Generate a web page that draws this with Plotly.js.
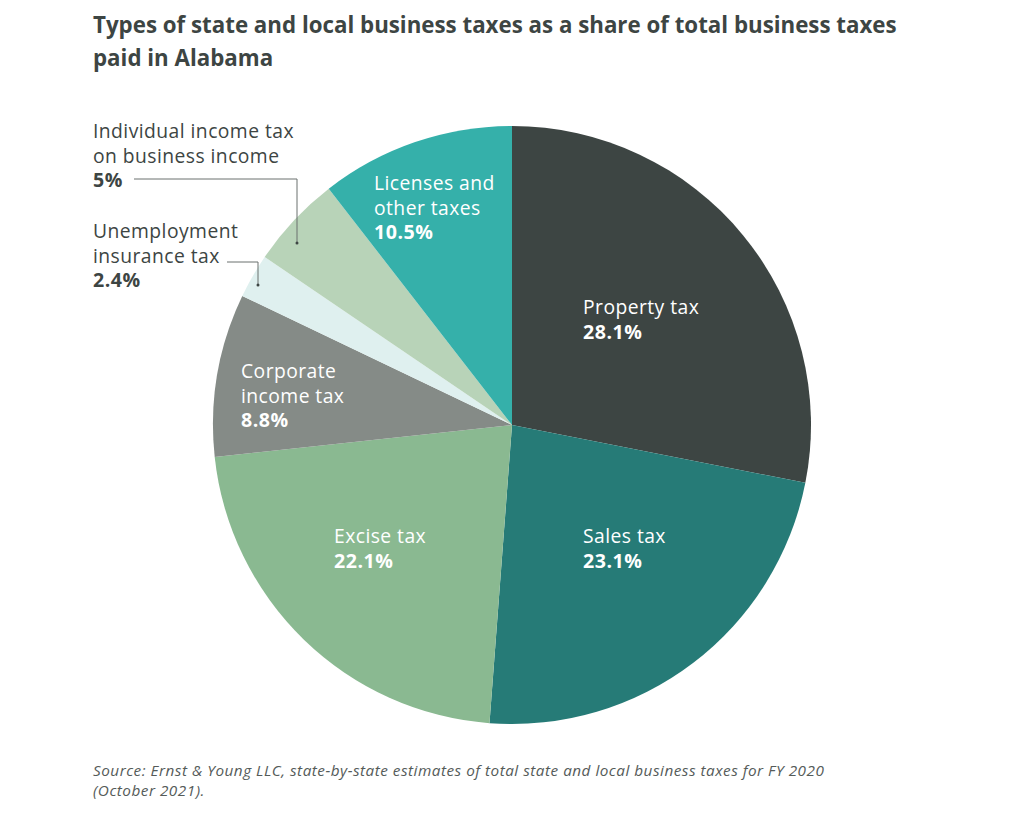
<!DOCTYPE html>
<html><head><meta charset="utf-8">
<script src="https://cdn.plot.ly/plotly-3.0.1.min.js"></script>
<style>body{margin:0;background:#fff}#chart{width:1024px;height:816px}</style>
</head><body><div id="chart"></div>
<script>
var labels = ["Property tax","Sales tax","Excise tax","Corporate income tax","Unemployment insurance tax","Individual income tax on business income","Licenses and other taxes"];
var values = [28.1, 23.1, 22.1, 8.8, 2.4, 5, 10.5];
var colors = ["#3d4543","#267b77","#8ab991","#858b87","#dff0ef","#b8d3b8","#35b0aa"];
var labelLines = [["Property tax"],["Sales tax"],["Excise tax"],["Corporate","income tax"],["Unemployment","insurance tax"],["Individual income tax","on business income"],["Licenses and","other taxes"]];
var valueText = ["28.1%","23.1%","22.1%","8.8%","2.4%","5%","10.5%"];
var titleLines = ["Types of state and local business taxes as a share of total business taxes","paid in Alabama"];
var sourceLines = ["Source: Ernst &amp; Young LLC, state-by-state estimates of total state and local business taxes for FY 2020","(October 2021)."];

// label anchor: left x, centre y of first line, inside slice?
var labelPos = [[583,307,true],[583,536,true],[334,536,true],[241,370,true],[93,230,false],[93,130,false],[374,182,true]];
var pitch = 24.6;

var W=1024,H=816;
function px(x){return x/W;} function py(y){return 1-y/H;}

var annotations = [];
function addText(x,yTop,nLines,pitchPx,txt,font){
  var yc = yTop + (nLines-1)*pitchPx/2;
  annotations.push({xref:'paper', yref:'paper', x:px(x), y:py(yc), xanchor:'left', yanchor:'middle',
    align:'left', showarrow:false, text:txt, font:font, borderpad:0});
}
var baseSize = pitch/1.3;
for (var i=0;i<labels.length;i++){
  var p = labelPos[i];
  var col = p[2] ? '#ffffff' : '#3d4543';
  var lines = labelLines[i].map(function(s){return '<span style="font-size:19.3px;letter-spacing:0.45px">'+s+'</span>';});
  lines.push('<span style="font-size:19.6px;letter-spacing:0.5px"><b>'+valueText[i]+'</b></span>');
  addText(p[0]-1, p[1], lines.length, pitch, lines.join('<br>'), {family:'Open Sans', size:baseSize, color:col});
}
for (var k=0;k<titleLines.length;k++){
  addText(92, 24+k*34, 1, 0, '<b>'+titleLines[k]+'</b>', {family:'Open Sans', size:22.3, color:'#3d4543'});
}
var srcPitch = 19.5;
addText(92, 770, sourceLines.length, srcPitch,
  sourceLines.map(function(s){return '<span style="font-size:15.3px;letter-spacing:0.5px"><i>'+s+'</i></span>';}).join('<br>'),
  {family:'Open Sans', size:srcPitch/1.3, color:'#555b59'});

var lc = '#6b706e';
var shapes = [
  {type:'path', xref:'paper', yref:'paper', path:'M '+px(134)+' '+py(179)+' L '+px(297)+' '+py(179)+' L '+px(297)+' '+py(243), line:{color:lc,width:1}},
  {type:'path', xref:'paper', yref:'paper', path:'M '+px(227)+' '+py(262)+' L '+px(258)+' '+py(262)+' L '+px(258)+' '+py(285), line:{color:lc,width:1}},
  {type:'circle', xref:'paper', yref:'paper', x0:px(295.5), x1:px(298.5), y0:py(241.5), y1:py(244.5), fillcolor:'#3d4543', line:{width:0}},
  {type:'circle', xref:'paper', yref:'paper', x0:px(256.5), x1:px(259.5), y0:py(283.5), y1:py(286.5), fillcolor:'#3d4543', line:{width:0}}
];

var trace = {
  type:'pie', labels:labels, values:values, sort:false, direction:'clockwise', rotation:0,
  marker:{colors:colors, line:{width:0}}, textinfo:'none', hoverinfo:'label+percent',
  domain:{x:[px(213),px(811)], y:[py(724),py(126)]}
};

Plotly.newPlot('chart',[trace],{
  width:W, height:H, margin:{l:0,r:0,t:0,b:0}, showlegend:false,
  paper_bgcolor:'#ffffff', annotations:annotations, shapes:shapes
},{displayModeBar:false, staticPlot:true});
</script></body></html>
